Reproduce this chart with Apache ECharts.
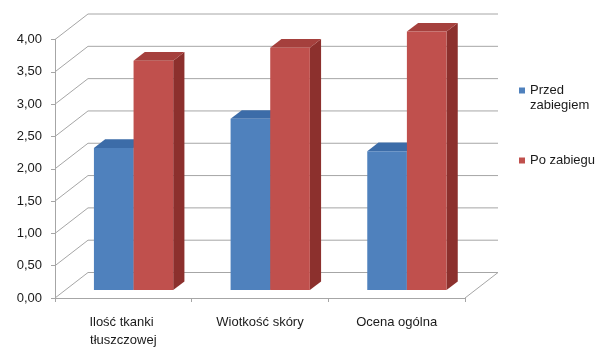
<!DOCTYPE html>
<html><head><meta charset="utf-8">
<script src="https://cdn.jsdelivr.net/npm/echarts@6/dist/echarts.min.js"></script>
<style>html,body{margin:0;padding:0;background:#fff}#c{width:604px;height:347px}</style>
</head><body><div id="c"></div>
<script>
const categories = ['Ilość tkanki tłuszczowej', 'Wiotkość skóry', 'Ocena ogólna'];
const seriesNames = ['Przed zabiegiem', 'Po zabiegu'];
const przedValues = [2.20, 2.65, 2.15];
const poValues = [3.55, 3.75, 4.00];
const yTicks = [0, 0.5, 1, 1.5, 2, 2.5, 3, 3.5, 4];

const DEPTH = [33, -25.5];   // 3D wall depth offset (px)
const BAR_POS = 0.31;        // where the bar front face sits inside the depth
const BAR_DEPTH = 0.34;      // bar depth as a fraction of wall depth
const BAR_W = 0.29;          // bar width as fraction of category width
const FONT = 'Liberation Sans, Arial, sans-serif';
const FS = 13;
const TEXT = '#1a1a1a';
const LINE = '#a6a6a6';
const palette = [
  {front: '#4F81BD', top: '#3C6CA8', side: '#2F5A8E'},
  {front: '#C0504D', top: '#A5403D', side: '#8C302D'}
];

function wallItem(params, api) {
  const v = api.value(1);
  const cs = params.coordSys;
  const y = api.coord([0, v])[1];
  const x0 = cs.x, x1 = cs.x + cs.width;
  const st = {stroke: LINE, lineWidth: 1};
  const children = [
    {type: 'line', shape: {x1: x0, y1: y, x2: x0 + DEPTH[0], y2: y + DEPTH[1]}, style: st},
    {type: 'line', shape: {x1: x0 + DEPTH[0], y1: y + DEPTH[1], x2: x1 + DEPTH[0], y2: y + DEPTH[1]}, style: st}
  ];
  if (v === 0) {
    children.push({type: 'line', shape: {x1: x1, y1: y, x2: x1 + DEPTH[0], y2: y + DEPTH[1]}, style: st});
  }
  return {type: 'group', children: children};
}

function barRenderer(si) {
  return function (params, api) {
    const ci = api.value(0), v = api.value(1);
    const top = api.coord([ci, v]), base = api.coord([ci, 0]);
    const cw = api.size([1, 0])[0];
    const sx = DEPTH[0] * BAR_POS, sy = DEPTH[1] * BAR_POS;
    const bw = cw * BAR_W;
    const xl = top[0] + sx + (si === 0 ? -bw : 0);
    const xr = xl + bw;
    const yt = top[1] + sy, yb = base[1] + sy;
    const dx = DEPTH[0] * BAR_DEPTH, dy = DEPTH[1] * BAR_DEPTH;
    const c = palette[si];
    return {type: 'group', children: [
      {type: 'polygon', shape: {points: [[xr, yt], [xr + dx, yt + dy], [xr + dx, yb + dy], [xr, yb]]}, style: {fill: c.side}},
      {type: 'polygon', shape: {points: [[xl, yt], [xl + dx, yt + dy], [xr + dx, yt + dy], [xr, yt]]}, style: {fill: c.top}},
      {type: 'rect', shape: {x: xl, y: yt, width: bw, height: yb - yt}, style: {fill: c.front}}
    ]};
  };
}

const chart = echarts.init(document.getElementById('c'), null, {renderer: 'canvas'});
chart.setOption({
  animation: false,
  backgroundColor: '#fff',
  textStyle: {fontFamily: FONT},
  grid: {left: 55, right: 139, top: 39.5, bottom: 49, containLabel: false, outerBoundsMode: 'none'},
  legend: [
    {
      data: [seriesNames[0]], orient: 'vertical', left: 519, top: 68, padding: 0,
      icon: 'rect', itemWidth: 6, itemHeight: 6,
      formatter: n => ' \n' + n.replace(' ', '\n'),
      textStyle: {fontFamily: FONT, fontSize: FS, color: TEXT, lineHeight: 15}
    },
    {
      data: [seriesNames[1]], orient: 'vertical', left: 519, top: 153, padding: 0,
      icon: 'rect', itemWidth: 6, itemHeight: 6,
      textStyle: {fontFamily: FONT, fontSize: FS, color: TEXT, lineHeight: 15}
    }
  ],
  xAxis: {
    type: 'category', data: categories,
    axisLine: {lineStyle: {color: LINE}},
    axisTick: {show: true, length: 4, interval: 0, lineStyle: {color: LINE}},
    axisLabel: {interval: 0, margin: 15, fontSize: FS, color: TEXT, lineHeight: 18, width: 120, overflow: 'break', fontFamily: FONT},
    splitLine: {show: false}
  },
  yAxis: {
    type: 'value', min: 0, max: 4, interval: 0.5,
    axisLine: {show: true, lineStyle: {color: LINE}},
    axisTick: {show: true, length: 4, lineStyle: {color: LINE}},
    axisLabel: {margin: 13, fontSize: FS, color: TEXT, fontFamily: FONT, formatter: v => v.toFixed(2).replace('.', ',')},
    splitLine: {show: false}
  },
  series: [
    {
      type: 'custom', name: 'walls', z: 1, silent: true,
      renderItem: wallItem,
      data: yTicks.map(v => [0, v]),
      encode: {x: 0, y: 1}
    },
    {
      type: 'custom', name: seriesNames[0], z: 3,
      itemStyle: {color: palette[0].front},
      renderItem: barRenderer(0),
      data: przedValues.map((v, i) => [i, v]),
      encode: {x: 0, y: 1}
    },
    {
      type: 'custom', name: seriesNames[1], z: 4,
      itemStyle: {color: palette[1].front},
      renderItem: barRenderer(1),
      data: poValues.map((v, i) => [i, v]),
      encode: {x: 0, y: 1}
    }
  ]
});
</script>
</body></html>
